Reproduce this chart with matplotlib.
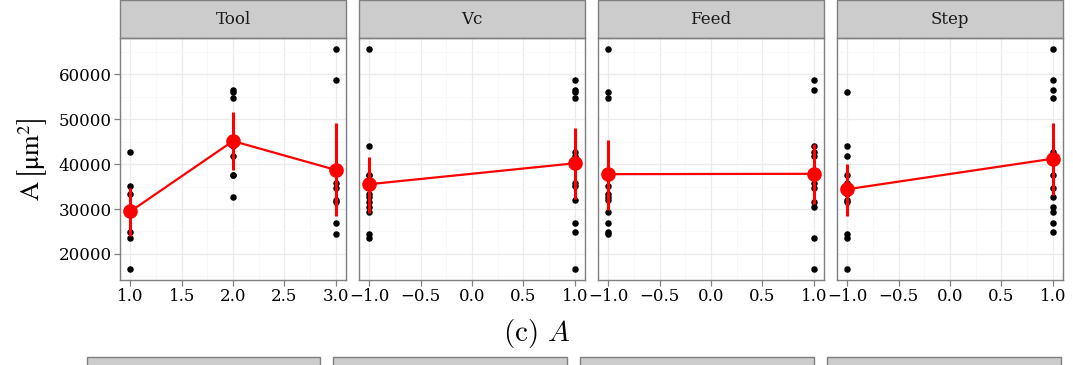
import numpy as np
import matplotlib
matplotlib.use("Agg")
from matplotlib import pyplot as plt
from matplotlib.patches import Rectangle
from matplotlib.ticker import MultipleLocator, FuncFormatter

plt.rcParams['font.family'] = ['DejaVu Serif']
plt.rcParams['mathtext.fontset'] = 'cm'

# Diseño factorial: Tool x Vc x Feed x Step, 24 ensayos
tool = [1, 1, 1, 1, 1, 1, 1, 1,
        2, 2, 2, 2, 2, 2, 2, 2,
        3, 3, 3, 3, 3, 3, 3, 3]
vc = [1, 1, -1, -1, -1, 1, -1, 1,
      1, 1, 1, -1, 1, -1, -1, -1,
      -1, 1, 1, -1, 1, -1, 1, -1]
feed = [1, -1, -1, 1, -1, -1, 1, 1,
        1, -1, -1, 1, 1, -1, 1, -1,
        -1, 1, 1, 1, -1, 1, -1, -1]
step = [1, -1, -1, 1, 1, 1, -1, -1,
        1, -1, 1, -1, -1, -1, 1, 1,
        1, 1, -1, 1, -1, -1, 1, -1]
area = [42600, 35150, 33300, 30560, 29310, 24900, 23550, 16650,
        56600, 56080, 54675, 44025, 41800, 37600, 37500, 32780,
        65620, 58820, 35745, 34635, 31900, 31600, 26780, 24500]

# Medias e intervalos por factor
factores = ['Tool', 'Vc', 'Feed', 'Step']
niveles = {'Tool': [1, 2, 3], 'Vc': [-1, 1], 'Feed': [-1, 1], 'Step': [-1, 1]}
medias = {'Tool': [29450, 45130, 38700], 'Vc': [35525, 40180],
          'Feed': [37760, 37840], 'Step': [34400, 41200]}
inferior = {'Tool': [23900, 38700, 28340], 'Vc': [29090, 32260],
            'Feed': [29820, 31150], 'Step': [28490, 33150]}
superior = {'Tool': [34770, 51500, 49200], 'Vc': [41650, 48080],
            'Feed': [45350, 44470], 'Step': [40030, 49200]}
columnas = {'Tool': tool, 'Vc': vc, 'Feed': feed, 'Step': step}

W, H = 1073, 365
fig = plt.figure(figsize=(W / 100, H / 100), dpi=100)

izquierdas = [120, 359, 598, 837]
ancho, arriba, abajo = 226, 38, 280

rango = max(area) - min(area)
ylim = (min(area) - 0.05 * rango, max(area) + 0.05 * rango)

gris50 = '#7F7F7F'
fmt_x = FuncFormatter(lambda v, p: f'{v:.1f}'.replace('-', '\u2212'))

for i, f in enumerate(factores):
    ax = fig.add_axes([izquierdas[i] / W, (H - abajo) / H, ancho / W, (abajo - arriba) / H])
    x = np.array(columnas[f])
    ax.scatter(x, area, s=22, color='black', zorder=3, linewidths=0)
    ax.plot(niveles[f], medias[f], color='red', lw=1.6, zorder=4)
    ax.vlines(niveles[f], inferior[f], superior[f], color='red', lw=2.2, zorder=4)
    ax.plot(niveles[f], medias[f], 'o', color='red', ms=9.5, zorder=5)

    lo, hi = min(niveles[f]), max(niveles[f])
    pad = 0.05 * (hi - lo)
    ax.set_xlim(lo - pad, hi + pad)
    ax.set_ylim(ylim)
    ax.xaxis.set_major_locator(MultipleLocator(0.5))
    ax.xaxis.set_minor_locator(MultipleLocator(0.25))
    ax.yaxis.set_major_locator(MultipleLocator(10000))
    ax.yaxis.set_minor_locator(MultipleLocator(5000))
    ax.xaxis.set_major_formatter(fmt_x)
    ax.grid(which='major', color='#EBEBEB', lw=0.9, zorder=0)
    ax.grid(which='minor', color='#F7F7F7', lw=0.6, zorder=0)
    ax.set_axisbelow(True)
    for s in ax.spines.values():
        s.set_color(gris50)
        s.set_linewidth(1.0)
    ax.tick_params(which='minor', length=0)
    ax.tick_params(which='major', color=gris50, length=4, width=0.9,
                   labelsize=12, labelcolor='black', pad=2)
    if i > 0:
        ax.tick_params(axis='y', left=False, labelleft=False)

    # Franja del panel
    h = 38 / (abajo - arriba)
    ax.add_patch(Rectangle((0, 1), 1, h, transform=ax.transAxes, clip_on=False,
                           facecolor='#CCCCCC', edgecolor=gris50, lw=1.0))
    ax.text(0.5, 1 + h / 2, f, transform=ax.transAxes, ha='center', va='center',
            fontsize=12, color='#1A1A1A')

fig.text(32 / W, (H - 159) / H, r'$\mathrm{A}\,\left[\mathrm{\mu m}^{2}_{\,}\right]$',
         rotation=90, ha='center', va='center', fontsize=19, math_fontfamily='stix')
fig.text(0.5, (H - 334) / H, r'$\mathrm{(c)}\ A$', ha='center', va='center',
         fontsize=21)

# Franjas de la siguiente fila de paneles
for x0, x1 in [(87, 320), (333, 567), (580, 814), (827, 1061)]:
    fig.patches.append(Rectangle((x0 / W, -0.02), (x1 - x0) / W, (0.02 + 8 / H),
                                 transform=fig.transFigure, facecolor='#CCCCCC',
                                 edgecolor=gris50, lw=1.0))

fig.savefig('out.png', dpi=100)
